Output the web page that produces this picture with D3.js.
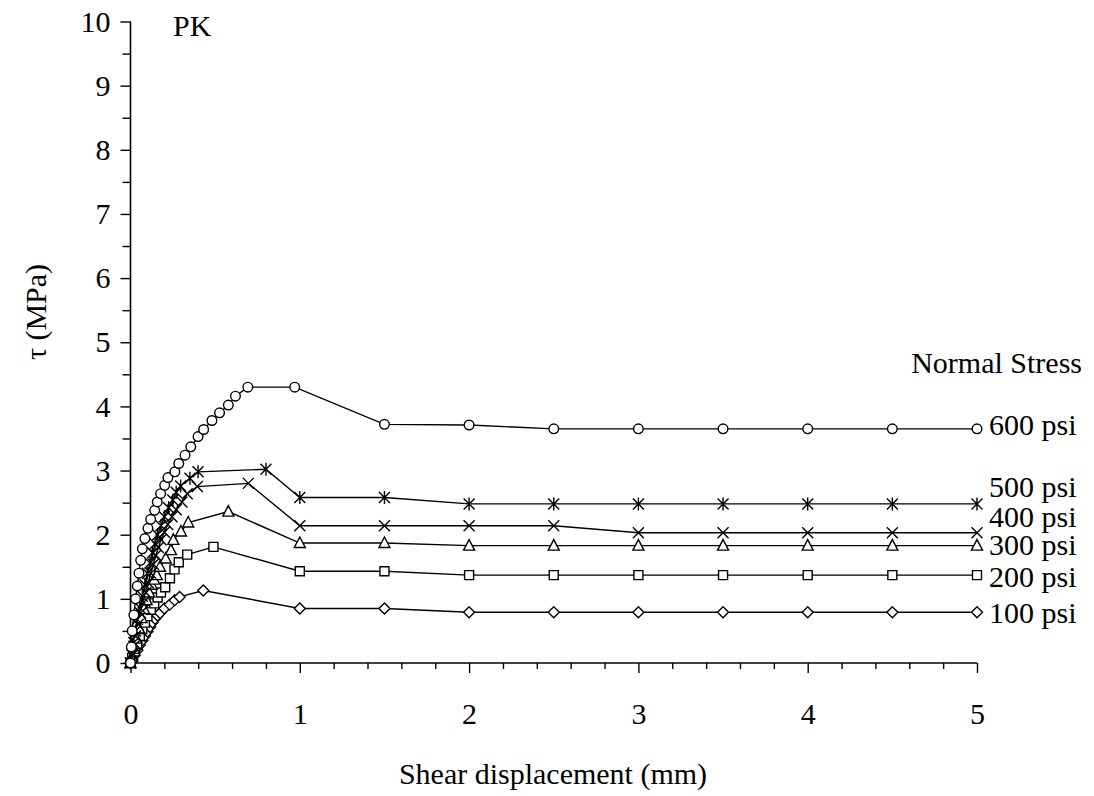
<!DOCTYPE html>
<html>
<head>
<meta charset="utf-8">
<script src="https://cdn.jsdelivr.net/npm/d3@7"></script>
<style>
  html, body { margin: 0; padding: 0; background: #fff; }
  svg text { font-family: "Liberation Serif", "Times New Roman", serif; fill: #000; }
</style>
</head>
<body>
<svg id="chart" width="1094" height="796"></svg>
<script>
// Shear stress vs shear displacement, one series per normal stress level
const labels = ["100 psi", "200 psi", "300 psi", "400 psi", "500 psi", "600 psi"];
const markers = ["diamond", "square", "triangle", "cross", "star", "circle"];

const psi100 = [[0,0],[0.01,0.05],[0.025,0.12],[0.04,0.2],[0.055,0.28],[0.07,0.35],[0.085,0.42],[0.1,0.49],[0.115,0.56],[0.13,0.63],[0.145,0.69],[0.16,0.74],[0.175,0.78],[0.2,0.85],[0.232,0.91],[0.261,0.98],[0.29,1.03],[0.43,1.13],[1.0,0.85],[1.5,0.85],[2.0,0.79],[2.5,0.79],[3.0,0.79],[3.5,0.79],[4.0,0.79],[4.5,0.79],[5.0,0.79]];
const psi200 = [[0,0],[0.01,0.08],[0.025,0.18],[0.04,0.3],[0.055,0.42],[0.07,0.53],[0.085,0.63],[0.1,0.73],[0.12,0.83],[0.14,0.93],[0.16,1.02],[0.18,1.1],[0.205,1.18],[0.233,1.32],[0.26,1.46],[0.285,1.57],[0.335,1.69],[0.49,1.81],[1.0,1.43],[1.5,1.43],[2.0,1.37],[2.5,1.37],[3.0,1.37],[3.5,1.37],[4.0,1.37],[4.5,1.37],[5.0,1.37]];
const psi300 = [[0,0],[0.01,0.1],[0.02,0.22],[0.035,0.38],[0.05,0.54],[0.065,0.7],[0.08,0.84],[0.095,0.98],[0.11,1.1],[0.125,1.22],[0.14,1.3],[0.155,1.37],[0.174,1.5],[0.208,1.63],[0.239,1.76],[0.253,1.92],[0.298,2.05],[0.341,2.19],[0.578,2.36],[1.0,1.87],[1.5,1.87],[2.0,1.83],[2.5,1.83],[3.0,1.83],[3.5,1.83],[4.0,1.83],[4.5,1.83],[5.0,1.83]];
const psi400 = [[0,0],[0.01,0.12],[0.02,0.26],[0.03,0.42],[0.045,0.6],[0.06,0.78],[0.075,0.94],[0.09,1.1],[0.105,1.25],[0.12,1.4],[0.135,1.54],[0.15,1.68],[0.165,1.8],[0.18,1.92],[0.2,2.04],[0.22,2.16],[0.245,2.28],[0.27,2.39],[0.304,2.51],[0.335,2.64],[0.395,2.75],[0.696,2.8],[1.0,2.14],[1.5,2.14],[2.0,2.14],[2.5,2.14],[3.0,2.03],[3.5,2.03],[4.0,2.03],[4.5,2.03],[5.0,2.03]];
const psi500 = [[0,0],[0.01,0.15],[0.02,0.32],[0.03,0.5],[0.04,0.68],[0.055,0.86],[0.07,1.04],[0.085,1.22],[0.1,1.4],[0.115,1.56],[0.13,1.72],[0.145,1.86],[0.16,2.0],[0.18,2.14],[0.2,2.28],[0.225,2.42],[0.25,2.54],[0.27,2.66],[0.296,2.76],[0.351,2.88],[0.399,2.98],[0.8,3.02],[1.0,2.58],[1.5,2.58],[2.0,2.48],[2.5,2.48],[3.0,2.48],[3.5,2.48],[4.0,2.48],[4.5,2.48],[5.0,2.48]];
const psi600 = [[0,0],[0.005,0.25],[0.01,0.5],[0.02,0.75],[0.03,1.0],[0.04,1.2],[0.05,1.4],[0.06,1.6],[0.07,1.78],[0.085,1.94],[0.103,2.1],[0.119,2.24],[0.143,2.38],[0.158,2.51],[0.178,2.64],[0.202,2.77],[0.221,2.89],[0.262,2.98],[0.285,3.11],[0.322,3.24],[0.356,3.37],[0.399,3.53],[0.432,3.64],[0.481,3.78],[0.526,3.9],[0.578,4.02],[0.62,4.16],[0.693,4.3],[0.97,4.3],[1.5,3.72],[2.0,3.71],[2.5,3.65],[3.0,3.65],[3.5,3.65],[4.0,3.65],[4.5,3.65],[5.0,3.65]];
const seriesData = [psi100, psi200, psi300, psi400, psi500, psi600];

const xTicks = [0, 1, 2, 3, 4, 5];
const yTicks = [0, 1, 2, 3, 4, 5, 6, 7, 8, 9, 10];

const svg = d3.select("#chart");
const x = d3.scaleLinear().domain([0, 5]).range([130.5, 977]);
const y = d3.scaleLinear().domain([0, 10]).range([663, 21.5]);
const fontSize = 30;

// Axes: major ticks with labels, minor ticks without
const yAxis = svg.append("g").attr("transform", `translate(${x(0)},0)`)
  .call(d3.axisLeft(y).tickValues(yTicks).tickSize(10).tickPadding(10).tickFormat(d3.format("d")));
const yMinor = svg.append("g").attr("transform", `translate(${x(0)},0)`)
  .call(d3.axisLeft(y).tickValues(d3.range(0.5, 10, 1)).tickSize(8).tickFormat(""));
const xAxis = svg.append("g").attr("transform", `translate(0,${y(0)})`)
  .call(d3.axisBottom(x).tickValues(xTicks).tickSize(10).tickPadding(30).tickFormat(d3.format("d")));
const xMinor = svg.append("g").attr("transform", `translate(0,${y(0)})`)
  .call(d3.axisBottom(x).tickValues(d3.range(0, 5.001, 0.2).filter(v => Math.abs(v - Math.round(v)) > 1e-6)).tickSize(6).tickFormat(""));

[yAxis, yMinor, xAxis, xMinor].forEach(g => {
  g.select(".domain").attr("stroke", "#000").attr("stroke-width", 1.6);
  g.selectAll(".tick line").attr("stroke", "#000").attr("stroke-width", 1.4);
  g.selectAll(".tick text").attr("font-size", fontSize).attr("font-family", "Liberation Serif");
});
yAxis.select(".domain").attr("d", `M-0,${y(10)}V${y(0)}`);
xAxis.select(".domain").attr("d", `M${x(0)},0H${x(5)}`);
yMinor.select(".domain").remove();
xMinor.select(".domain").remove();

// Series lines
const line = d3.line().x(d => x(d[0])).y(d => y(d[1]));
const plot = svg.append("g");
seriesData.forEach((data, i) => {
  plot.append("path").datum(data).attr("d", line)
    .attr("fill", "none").attr("stroke", "#000").attr("stroke-width", 1.4);
});

// Marker glyphs
function markerPath(type) {
  const p = d3.path();
  if (type === "diamond") { p.moveTo(0,-5.5); p.lineTo(5.5,0); p.lineTo(0,5.5); p.lineTo(-5.5,0); p.closePath(); }
  else if (type === "square") { p.rect(-4.5,-4.5,9,9); }
  else if (type === "triangle") { p.moveTo(0,-6); p.lineTo(5.5,4.5); p.lineTo(-5.5,4.5); p.closePath(); }
  else if (type === "cross") { p.moveTo(-5.5,-5.5); p.lineTo(5.5,5.5); p.moveTo(5.5,-5.5); p.lineTo(-5.5,5.5); }
  else if (type === "star") { p.moveTo(-5.5,-5.5); p.lineTo(5.5,5.5); p.moveTo(5.5,-5.5); p.lineTo(-5.5,5.5); p.moveTo(0,-6.5); p.lineTo(0,6.5); }
  else if (type === "circle") { p.arc(0,0,4.8,0,2*Math.PI); p.closePath(); }
  return p.toString();
}
seriesData.forEach((data, i) => {
  plot.append("g").selectAll("path").data(data).join("path")
    .attr("transform", d => `translate(${x(d[0])},${y(d[1])})`)
    .attr("d", markerPath(markers[i]))
    .attr("fill", (markers[i] === "cross" || markers[i] === "star") ? "none" : "#fff")
    .attr("stroke", "#000").attr("stroke-width", 1.4);
});

// Series labels at the right end (tightly stacked, as the curves are close together)
const labelBaselines = [623, 587, 555, 527, 497, 435];
labels.forEach((t, i) => {
  svg.append("text").attr("x", 989).attr("y", labelBaselines[i])
    .attr("font-size", fontSize).text(t);
});
svg.append("text").attr("x", 1082).attr("y", 373).attr("text-anchor", "end")
  .attr("font-size", fontSize).text("Normal Stress");
svg.append("text").attr("x", 173).attr("y", 36).attr("font-size", fontSize).text("PK");

// Axis titles
svg.append("text").attr("x", 553).attr("y", 784).attr("text-anchor", "middle")
  .attr("font-size", fontSize).text("Shear displacement (mm)");
svg.append("text").attr("transform", "translate(46,312) rotate(-90)").attr("text-anchor", "middle")
  .attr("font-size", fontSize).text("τ (MPa)");
</script>
</body>
</html>
